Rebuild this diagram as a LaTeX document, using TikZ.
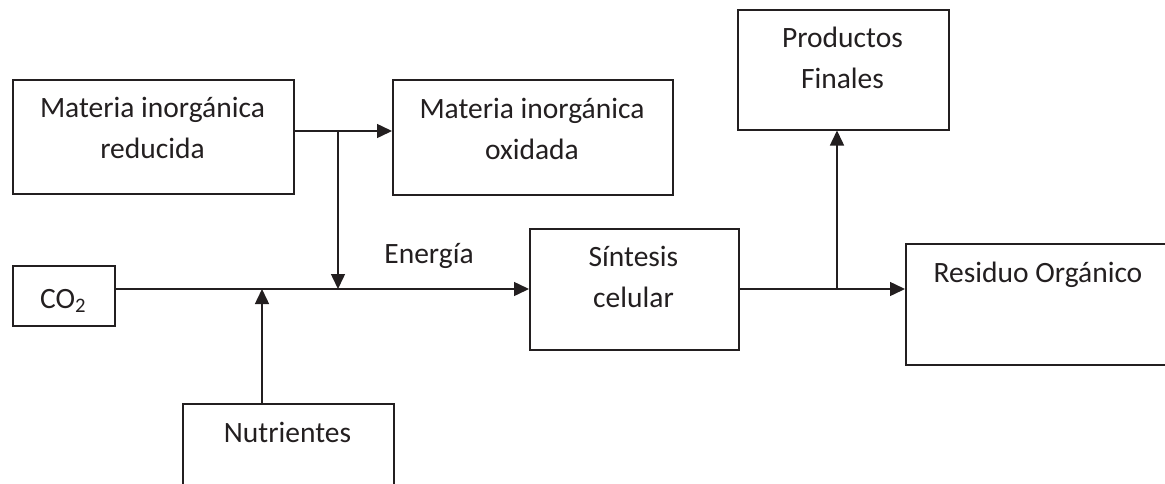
\documentclass[tikz,border=0pt]{standalone}
\usepackage{fontspec}
\setmainfont{Carlito}
\usetikzlibrary{arrows.meta,calc}
\definecolor{ink}{HTML}{231F20}
\tikzset{
  box/.style={draw=ink, line width=1.5pt, inner sep=0pt, anchor=north west},
  txt/.style={text=ink, inner sep=0pt, anchor=base, align=center,
    font=\fontsize{29.5}{41}\selectfont},
  flow/.style={draw=ink, line width=1.5pt, -{Triangle[length=15pt,width=14pt]}},
}
\begin{document}
\begin{tikzpicture}[x=1pt,y=-1pt]
  \useasboundingbox (0,0) rectangle (1165,483);
  \clip (0,0) rectangle (1165,483);

  % boxes
  \node[box, minimum width=281pt, minimum height=114pt] (red) at (12,79) {};
  \node[box, minimum width=280pt, minimum height=115pt] (oxi) at (392,79) {};
  \node[box, minimum width=102pt, minimum height=60pt] (co2) at (12,265) {};
  \node[box, minimum width=209pt, minimum height=121pt] (sin) at (529,228) {};
  \node[box, minimum width=211pt, minimum height=120pt] (prod) at (737,9) {};
  \node[box, minimum width=211pt, minimum height=120pt] (nut) at (182,403) {};
  \node[box, minimum width=275pt, minimum height=121pt] (res) at (905,243) {};

  % labels (base = baseline of the last line)
  \node[txt] (tred) at (152.5,158.5) {Materia inorgánica\\reducida};
  \node[txt] (toxi) at (532,159) {Materia inorgánica\\oxidada};
  \node[txt] (tco2) at (63,308) {CO\textsubscript{2}};
  \node[txt] (tsin) at (633.5,307) {Síntesis\\celular};
  \node[txt] (tprod) at (842.5,88) {Productos\\Finales};
  \node[txt] (tnut) at (287.5,442) {Nutrientes};
  \node[txt] (tres) at (1038,282) {Residuo Orgánico};
  \node[txt] (tene) at (429,263) {Energía};

  % junctions
  \coordinate (jR) at (338,131);
  \coordinate (jA) at (338,289);
  \coordinate (jN) at (262,289);
  \coordinate (jP) at (837,289);

  % connectors
  \draw[flow] (red.east |- jR) -- (oxi.west |- jR);
  \draw[flow] (jR) -- (jA);
  \draw[flow] (co2.east |- jA) -- (sin.west |- jA);
  \draw[flow] (jN |- nut.north) -- (jN);
  \draw[flow] (sin.east |- jP) -- (res.west |- jP);
  \draw[flow] (jP) -- (jP |- prod.south);
\end{tikzpicture}
\end{document}
